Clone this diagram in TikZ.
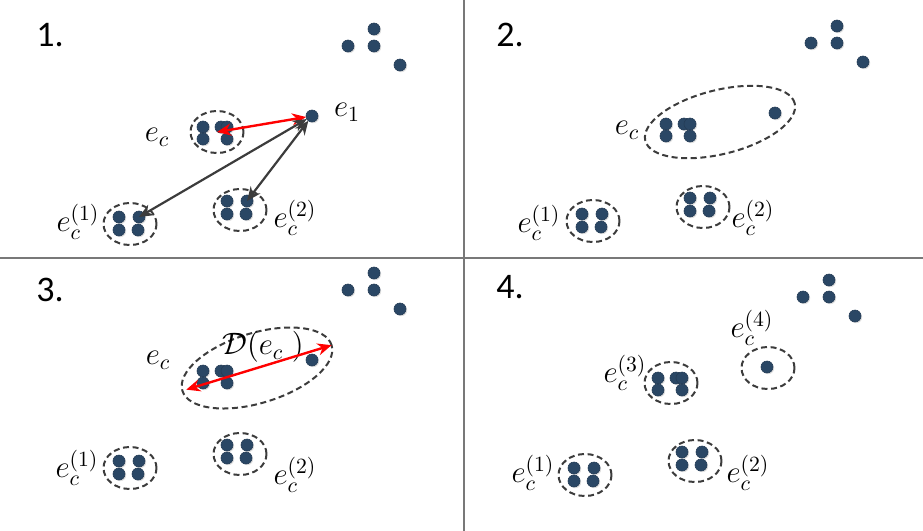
\RequirePackage{fix-cm}
\documentclass[tikz,border=0pt]{standalone}
\usepackage{fontspec}
\newfontfamily\numfont{Carlito}
\usetikzlibrary{arrows.meta, shapes.geometric, shadows}
\definecolor{cdot}{HTML}{2A4765}
\definecolor{cline}{HTML}{3C3C3C}
\definecolor{crule}{HTML}{787878}
\definecolor{cred}{HTML}{FF0000}
\tikzset{
  every picture/.style={x=0.5pt, y=-0.5pt},
  pnt/.style={circle, fill=cdot, draw=cdot!85!black, line width=0.3pt, minimum size=6pt, inner sep=0pt, outer sep=0pt,
    drop shadow={shadow xshift=0.6pt, shadow yshift=-0.6pt, opacity=0.25}},
  grp/.style={ellipse, draw=cline, dash pattern=on 3pt off 1.8pt, line width=1pt, inner sep=0pt, outer sep=0pt,
    minimum width=26.5pt, minimum height=21pt},
  lbl/.style={font=\fontsize{15.5}{17}\selectfont, inner sep=0pt},
  num/.style={font=\numfont\fontsize{18}{20}\selectfont, inner sep=0pt},
  arrow/.style={{Stealth[length=7pt, width=6pt]}-{Stealth[length=7pt, width=6pt]}, draw=cline, line width=1.1pt},
  redarrow/.style={arrow, draw=cred, line width=1.2pt},
  rule/.style={draw=crule, line width=1.2pt},
}
\begin{document}
\begin{tikzpicture}
  \useasboundingbox (0,0) rectangle (923,531);
  % panel dividers
  \draw[rule] (464,0) -- (464,531);
  \draw[rule] (0,258) -- (923,258);
  % the same points in every panel
  \foreach \p/\ox/\oy in {1/0/0, 2/463/-3, 3/0/244, 4/455/251} {
    \begin{scope}[shift={(\ox,\oy)}]
      \foreach \n/\x/\y in {k1/348/46, k2/374/29, k3/374/46, k4/400/65,
                            a1/203/127, a2/221/127, a3/227/127, a4/203/139, a5/227/139,
                            o/312/116,
                            b1/119/217, b2/139/217, b3/119/230, b4/138/230,
                            d1/227/201, d2/247/201, d3/227/214, d4/246/214}
        \node[pnt] (p\p\n) at (\x,\y) {};
      \node[grp] (p\p g1) at (130,224) {};
      \node[grp] (p\p g2) at (240,210) {};
    \end{scope}
  }
  % panel numbers
  \node[num] (n1) at (50,35) {1.};
  \node[num] (n2) at (510,35) {2.};
  \node[num] (n3) at (50,290) {3.};
  \node[num] (n4) at (510,287) {4.};
  % 1.
  \node[grp] (p1g) at (217,132) {};
  \node[lbl] (p1lc) at (157,137) {$e_c$};
  \node[lbl] (p1lo) at (347,112) {$e_1$};
  \node[lbl] (p1l1) at (78,222) {$e_c^{(1)}$};
  \node[lbl] (p1l2) at (295,218) {$e_c^{(2)}$};
  \draw[redarrow] (p1g.center) -- (p1o);
  \draw[arrow] (p1o) -- (p1b2.center);
  \draw[arrow] (p1o) -- (p1d2.center);
  % 2.
  \node[grp, minimum width=77pt, minimum height=32pt, rotate=14] (p2g) at (720,122) {};
  \node[lbl] (p2lc) at (627,130) {$e_c$};
  \node[lbl] (p2l1) at (539,223) {$e_c^{(1)}$};
  \node[lbl] (p2l2) at (753,218) {$e_c^{(2)}$};
  % 3.
  \node[grp, minimum width=78pt, minimum height=35pt, rotate=17] (p3g) at (257,368) {};
  \node[lbl] (p3lc) at (158,360) {$e_c$};
  \node[lbl] (p3ld) at (263,347) {$\mathcal{D}(e_c\;)$};
  \node[lbl] (p3l1) at (77,468) {$e_c^{(1)}$};
  \node[lbl] (p3l2) at (295,475) {$e_c^{(2)}$};
  \draw[redarrow, shorten <=2pt] (p3g.west) -- (p3g.east);
  % 4.
  \node[grp] (p4g3) at (671,383) {};
  \node[grp] (p4g4) at (768,368) {};
  \node[lbl] (p4l4) at (752,328) {$e_c^{(4)}$};
  \node[lbl] (p4l3) at (625,373) {$e_c^{(3)}$};
  \node[lbl] (p4l1) at (533,473) {$e_c^{(1)}$};
  \node[lbl] (p4l2) at (748,473) {$e_c^{(2)}$};
\end{tikzpicture}
\end{document}
